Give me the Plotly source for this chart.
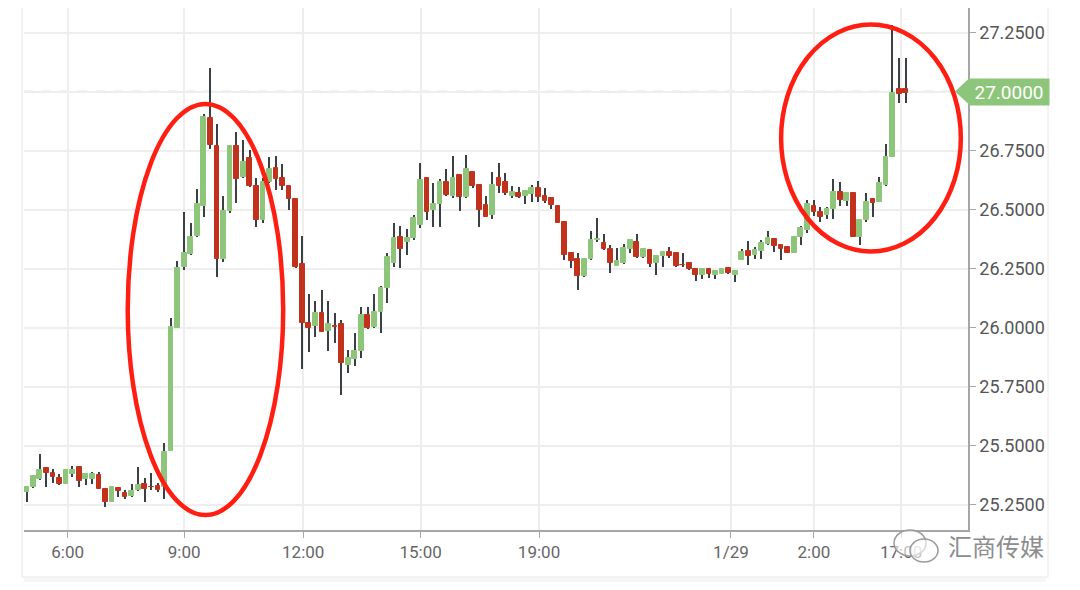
import plotly.graph_objects as go

# ---- data ----
opens = [25.304, 25.325, 25.359, 25.405, 25.384, 25.363, 25.339, 25.381, 25.412, 25.359,
         25.359, 25.377, 25.316, 25.264, 25.323, 25.302, 25.289, 25.314, 25.337, 25.328,
         25.332, 25.325, 25.480, 26.001, 26.256, 26.313, 26.389, 26.517, 26.890, 26.771,
         26.290, 26.496, 26.771, 26.637, 26.718, 26.601, 26.456, 26.619, 26.675, 26.633,
         26.600, 26.544, 26.269, 26.022, 26.008, 26.061, 25.988, 26.006, 26.015, 25.842,
         25.868, 25.903, 26.054, 26.002, 26.068, 26.167, 26.276, 26.386, 26.362, 26.379,
         26.435, 26.633, 26.499, 26.524, 26.619, 26.558, 26.647, 26.552, 26.661, 26.604,
         26.520, 26.477, 26.633, 26.619, 26.558, 26.572, 26.559, 26.567, 26.590, 26.558,
         26.551, 26.516, 26.449, 26.315, 26.290, 26.219, 26.290, 26.371, 26.358, 26.332,
         26.263, 26.273, 26.332, 26.365, 26.298, 26.329, 26.276, 26.304, 26.322, 26.315,
         26.268, 26.273, 26.248, 26.224, 26.248, 26.224, 26.228, 26.255, 26.224, 26.287,
         26.327, 26.308, 26.326, 26.355, 26.376, 26.350, 26.343, 26.318, 26.386, 26.414,
         26.516, 26.492, 26.477, 26.501, 26.576, 26.538, 26.572, 26.386, 26.456, 26.544,
         26.534, 26.604, 26.724, 27.009, 27.009]
highs = [25.330, 25.375, 25.465, 25.407, 25.401, 25.380, 25.400, 25.415, 25.414, 25.387,
         25.391, 25.391, 25.318, 25.330, 25.325, 25.314, 25.339, 25.409, 25.363, 25.387,
         25.345, 25.514, 26.043, 26.284, 26.492, 26.443, 26.588, 26.905, 27.099, 26.863,
         26.560, 26.774, 26.831, 26.793, 26.753, 26.633, 26.633, 26.722, 26.727, 26.693,
         26.602, 26.546, 26.389, 26.143, 26.113, 26.160, 26.113, 26.061, 26.033, 25.906,
         25.979, 26.087, 26.087, 26.142, 26.177, 26.315, 26.445, 26.431, 26.417, 26.477,
         26.699, 26.635, 26.612, 26.628, 26.671, 26.727, 26.649, 26.731, 26.663, 26.606,
         26.558, 26.661, 26.699, 26.657, 26.600, 26.595, 26.583, 26.605, 26.623, 26.590,
         26.553, 26.518, 26.451, 26.317, 26.318, 26.292, 26.411, 26.464, 26.397, 26.351,
         26.336, 26.355, 26.374, 26.397, 26.334, 26.331, 26.306, 26.324, 26.341, 26.317,
         26.315, 26.275, 26.250, 26.250, 26.252, 26.244, 26.250, 26.257, 26.244, 26.332,
         26.369, 26.343, 26.372, 26.411, 26.378, 26.352, 26.345, 26.389, 26.431, 26.541,
         26.541, 26.510, 26.510, 26.628, 26.619, 26.574, 26.574, 26.458, 26.572, 26.548,
         26.640, 26.778, 27.282, 27.141, 27.141]
lows = [25.264, 25.322, 25.356, 25.328, 25.342, 25.335, 25.337, 25.370, 25.328, 25.335,
        25.339, 25.317, 25.240, 25.262, 25.283, 25.275, 25.283, 25.311, 25.264, 25.314,
        25.304, 25.275, 25.478, 25.999, 26.245, 26.309, 26.383, 26.468, 26.756, 26.214,
        26.280, 26.488, 26.530, 26.635, 26.598, 26.426, 26.445, 26.612, 26.583, 26.583,
        26.499, 26.252, 25.824, 25.899, 25.962, 25.982, 25.902, 25.934, 25.715, 25.807,
        25.838, 25.871, 25.996, 26.000, 25.979, 26.106, 26.259, 26.252, 26.308, 26.372,
        26.421, 26.456, 26.425, 26.425, 26.560, 26.548, 26.496, 26.550, 26.590, 26.425,
        26.468, 26.459, 26.569, 26.562, 26.548, 26.548, 26.524, 26.534, 26.534, 26.527,
        26.502, 26.443, 26.287, 26.252, 26.160, 26.215, 26.288, 26.365, 26.329, 26.231,
        26.261, 26.271, 26.318, 26.294, 26.296, 26.256, 26.224, 26.259, 26.294, 26.259,
        26.259, 26.246, 26.200, 26.205, 26.209, 26.205, 26.226, 26.229, 26.195, 26.285,
        26.266, 26.290, 26.290, 26.350, 26.322, 26.287, 26.316, 26.316, 26.350, 26.400,
        26.473, 26.449, 26.459, 26.459, 26.516, 26.516, 26.384, 26.350, 26.449, 26.470,
        26.532, 26.600, 26.722, 26.950, 26.950]
closes = [25.328, 25.373, 25.398, 25.387, 25.367, 25.339, 25.398, 25.398, 25.353, 25.380,
          25.380, 25.319, 25.264, 25.328, 25.307, 25.285, 25.309, 25.335, 25.318, 25.326,
          25.314, 25.476, 26.005, 26.252, 26.318, 26.386, 26.524, 26.891, 26.774, 26.290,
          26.496, 26.770, 26.630, 26.704, 26.601, 26.457, 26.619, 26.671, 26.628, 26.600,
          26.544, 26.256, 26.022, 26.000, 26.061, 25.984, 26.015, 26.004, 25.850, 25.871,
          25.903, 26.054, 25.998, 26.068, 26.167, 26.298, 26.379, 26.332, 26.379, 26.463,
          26.626, 26.492, 26.524, 26.619, 26.562, 26.633, 26.552, 26.671, 26.600, 26.499,
          26.470, 26.604, 26.600, 26.569, 26.576, 26.552, 26.581, 26.590, 26.555, 26.538,
          26.520, 26.445, 26.308, 26.284, 26.219, 26.290, 26.372, 26.375, 26.332, 26.276,
          26.283, 26.336, 26.372, 26.298, 26.332, 26.270, 26.304, 26.322, 26.304, 26.262,
          26.266, 26.248, 26.224, 26.248, 26.228, 26.242, 26.248, 26.231, 26.242, 26.322,
          26.304, 26.329, 26.360, 26.379, 26.346, 26.332, 26.318, 26.386, 26.421, 26.523,
          26.492, 26.470, 26.501, 26.576, 26.541, 26.572, 26.386, 26.456, 26.534, 26.530,
          26.611, 26.722, 26.993, 26.990, 26.995]

tick_positions = [6.25, 24.0, 42.15, 60.05, 78.1, 107.35, 120.0, 133.3]
tick_labels = ["6:00", "9:00", "12:00", "15:00", "19:00", "1/29", "2:00", "17:00"]
price_ticks = [25.25, 25.5, 25.75, 26.0, 26.25, 26.5, 26.75, 27.0, 27.25]
last_price = 27.0

# highlighted regions (candle index range, price range)
highlight1 = dict(x0=15.4, x1=39.1, y0=25.207, y1=26.948)
highlight2 = dict(x0=115.0, x1=142.4, y0=26.323, y1=27.284)

# ---- styling ----
GREEN = "#8dc57b"
RED = "#c1311b"
WICK = "#3b4045"
GRID = "#eeeeee"
AXIS = "#a6a6a6"

idx = list(range(len(opens)))

wick_base = lows
wick_len = [h - l for h, l in zip(highs, lows)]
base = [min(o, c) for o, c in zip(opens, closes)]
height = [abs(c - o) for o, c in zip(opens, closes)]
colors = [GREEN if c >= o else RED for o, c in zip(opens, closes)]

fig = go.Figure()
# wicks (thin dark bars), then bodies on top
fig.add_trace(go.Bar(x=idx, y=wick_len, base=wick_base, width=0.2,
                     marker=dict(color=WICK, line=dict(width=0)),
                     hoverinfo="skip", showlegend=False))
fig.add_trace(go.Bar(x=idx, y=height, base=base, width=0.72,
                     marker=dict(color=colors, line=dict(color=colors, width=1)),
                     showlegend=False))

# page has an 8px body margin: work in page pixels, convert to figure pixels
OFF = 8
W, H = 1080 - OFF, 590 - OFF
PL, PR, PT, PB = 24, 968, 8, 530          # plot box in page pixels
L, R, T, B = PL - OFF, W - (PR - OFF), PT - OFF, H - (PB - OFF)
pw, ph = PR - PL, PB - PT

def px_x(px):
    return (px - PL) / pw

def px_y(py):
    return (PB - py) / ph

shapes = []
# card outline
shapes.append(dict(type="rect", xref="paper", yref="paper",
                   x0=px_x(22), x1=px_x(1048), y0=px_y(577), y1=px_y(-10),
                   line=dict(color="#e6e6e6", width=1), fillcolor="rgba(0,0,0,0)", layer="below"))
shapes.append(dict(type="rect", xref="paper", yref="paper",
                   x0=px_x(24), x1=px_x(1046), y0=px_y(582), y1=px_y(578),
                   line=dict(width=0), fillcolor="rgba(0,0,0,0.035)", layer="below"))
# darker date-separator gridline
shapes.append(dict(type="line", xref="x", yref="paper",
                   x0=tick_positions[5], x1=tick_positions[5], y0=0, y1=1,
                   line=dict(color="#cfcfcf", width=1.6), layer="below"))
# current price dashed line
shapes.append(dict(type="line", xref="paper", yref="y", x0=0, x1=1,
                   y0=last_price, y1=last_price,
                   line=dict(color="#b9dcaa", width=1.5, dash="dash"), layer="below"))
# price tag arrow tip
tip = 13 / 236.2
shapes.append(dict(type="path", xref="paper", yref="y",
                   path=f"M {px_x(955)},{last_price} L {px_x(969)},{last_price + tip} "
                        f"L {px_x(969)},{last_price - tip} Z",
                   fillcolor=GREEN, line=dict(width=0), layer="above"))
# red highlight ellipses
for hl in (highlight1, highlight2):
    shapes.append(dict(type="circle", xref="x", yref="y", **hl,
                       line=dict(color="#ff1e12", width=4.5), layer="above"))
# wechat-like icon outline
shapes.append(dict(type="circle", xref="paper", yref="paper",
                   x0=px_x(894), x1=px_x(926), y0=px_y(556), y1=px_y(530),
                   line=dict(color="#9a9a9a", width=1.5), fillcolor="rgba(255,255,255,0.6)"))
shapes.append(dict(type="circle", xref="paper", yref="paper",
                   x0=px_x(910), x1=px_x(938), y0=px_y(562), y1=px_y(539),
                   line=dict(color="#9a9a9a", width=1.5), fillcolor="rgba(255,255,255,0.6)"))

annotations = [
    dict(xref="paper", yref="y", x=1.0, y=last_price, xanchor="left", yanchor="middle",
         text=f"{last_price:.4f}", showarrow=False,
         font=dict(family="Roboto", size=19, color="white"),
         bgcolor=GREEN, borderpad=3, width=74, height=20),
    dict(xref="paper", yref="paper", x=px_x(1046), y=px_y(545), xanchor="right", yanchor="middle",
         text="汇商传媒", showarrow=False,
         font=dict(family="Noto Sans CJK SC", size=24, color="#8d8d8d")),
]

# the axis label at the current price is covered by the price tag
price_text = ["" if abs(v - last_price) < 1e-9 else f"{v:.4f}" for v in price_ticks]

fig.update_layout(
    width=W, height=H,
    margin=dict(l=L, r=R, t=T, b=B, pad=0),
    paper_bgcolor="white", plot_bgcolor="white",
    barmode="overlay", bargap=0, showlegend=False,
    shapes=shapes, annotations=annotations,
    xaxis=dict(
        range=[(PL - 26.7) / 6.56, (PR - 26.7) / 6.56],
        tickmode="array", tickvals=tick_positions, ticktext=tick_labels,
        showgrid=True, gridcolor=GRID, gridwidth=1.5,
        showline=True, linecolor=AXIS, linewidth=1.5,
        ticks="outside", ticklen=6, tickcolor=AXIS,
        tickfont=dict(family="Roboto", size=17, color="#666666"),
        zeroline=False, fixedrange=True,
    ),
    yaxis=dict(
        side="right",
        range=[27 - (PB - 91.6) / 236.2, 27 + (91.6 - PT) / 236.2],
        tickmode="array", tickvals=price_ticks, ticktext=price_text,
        showgrid=True, gridcolor=GRID, gridwidth=2,
        showline=True, linecolor=AXIS, linewidth=1.5,
        ticks="outside", ticklen=6, tickcolor=AXIS,
        tickfont=dict(family="Roboto", size=18, color="#555555"),
        zeroline=False, fixedrange=True,
    ),
)

fig.write_html("out.html")
